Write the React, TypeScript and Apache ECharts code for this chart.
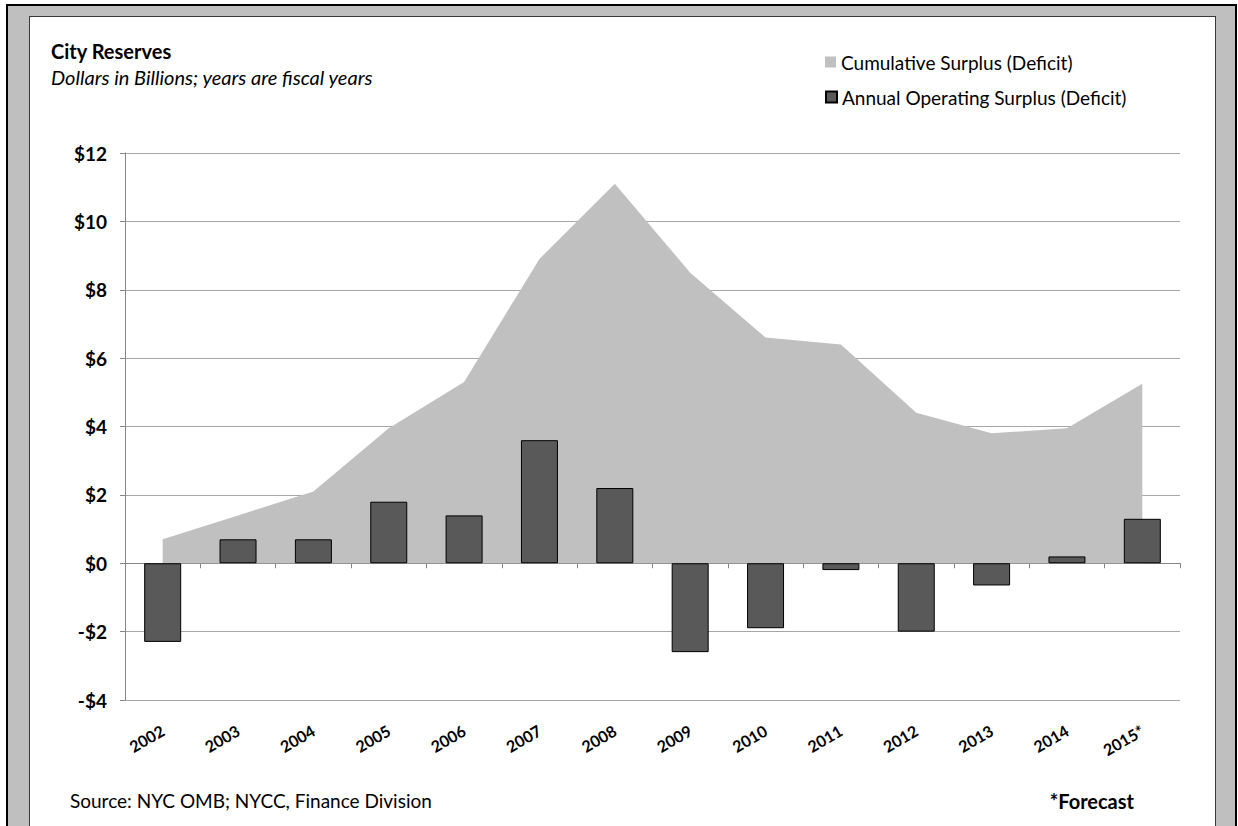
import React, { useEffect, useRef } from "react";
import * as echarts from "echarts";

const years = ["2002", "2003", "2004", "2005", "2006", "2007", "2008", "2009", "2010", "2011", "2012", "2013", "2014", "2015*"];
const cumulative = [0.7, 1.4, 2.1, 3.95, 5.3, 8.9, 11.1, 8.5, 6.6, 6.4, 4.4, 3.8, 3.95, 5.25];
const annual = [-2.3, 0.7, 0.7, 1.8, 1.4, 3.6, 2.2, -2.6, -1.9, -0.2, -2.0, -0.65, 0.2, 1.3];
const yTicks = { min: -4, max: 12, interval: 2 };
const titleText = "City Reserves";
const subtitleText = "Dollars in Billions; years are fiscal years";
const sourceText = "Source: NYC OMB; NYCC, Finance Division";
const noteText = "*Forecast";
const seriesNames = ["Cumulative Surplus (Deficit)", "Annual Operating Surplus (Deficit)"];

const FONT = "Lato, 'Open Sans', sans-serif";

export default function App() {
  const ref = useRef<HTMLDivElement>(null);
  useEffect(() => {
    if (!ref.current) return;
    const chart = echarts.init(ref.current, null, { renderer: "svg" });
    const fmt = (v: number) => (v < 0 ? "-$" + -v : "$" + v);
    const legendText = { fontSize: 19, color: "#000", fontFamily: FONT, lineHeight: 22 };
    chart.setOption({
      animation: false,
      backgroundColor: "transparent",
      textStyle: { fontFamily: FONT },
      grid: { left: 125, right: 58, top: 153, bottom: 126, containLabel: false },
      legend: [
        {
          left: 820,
          top: 46,
          itemWidth: 11,
          itemHeight: 11,
          itemGap: 0,
          textStyle: legendText,
          data: [{ name: seriesNames[0], icon: "rect" }],
        },
        {
          left: 820,
          top: 81,
          itemWidth: 11,
          itemHeight: 11,
          itemGap: 0,
          textStyle: legendText,
          data: [{ name: seriesNames[1], icon: "rect" }],
        },
      ],
      xAxis: [
        {
          type: "category",
          data: years,
          boundaryGap: true,
          position: "bottom",
          axisLine: { show: false, onZero: false },
          axisTick: { show: false },
          axisLabel: {
            interval: 0,
            rotate: 30,
            fontSize: 16,
            fontWeight: "bold",
            color: "#000",
            margin: 29,
            fontFamily: FONT,
          },
        },
        {
          type: "category",
          data: years,
          boundaryGap: true,
          position: "bottom",
          axisLine: { show: true, onZero: true, lineStyle: { color: "#868686", width: 1 } },
          axisTick: { show: true, length: 5, interval: 0, lineStyle: { color: "#868686" } },
          axisLabel: { show: false },
        },
      ],
      yAxis: {
        type: "value",
        min: yTicks.min,
        max: yTicks.max,
        interval: yTicks.interval,
        axisLine: { show: true, lineStyle: { color: "#868686" } },
        axisTick: { show: true, length: 5, lineStyle: { color: "#868686" } },
        axisLabel: {
          formatter: fmt,
          fontSize: 19,
          fontWeight: "bold",
          color: "#000",
          margin: 18,
          fontFamily: FONT,
        },
        splitLine: { show: true, lineStyle: { color: "#a6a6a6", width: 1 } },
      },
      series: [
        {
          name: seriesNames[0],
          type: "line",
          xAxisIndex: 0,
          data: cumulative,
          showSymbol: false,
          symbol: "none",
          lineStyle: { width: 0 },
          itemStyle: { color: "#c0c0c0" },
          areaStyle: { color: "#c0c0c0", opacity: 1 },
          z: 1,
        },
        {
          name: seriesNames[1],
          type: "bar",
          xAxisIndex: 0,
          data: annual,
          barWidth: 37,
          itemStyle: { color: "#595959", borderColor: "#000", borderWidth: 1 },
          z: 3,
        },
      ],
      graphic: [
        {
          type: "text",
          x: 51,
          y: 51,
          style: { text: titleText, fontSize: 20, fontWeight: "bold", fill: "#000", fontFamily: FONT, align: "left", verticalAlign: "middle" },
        },
        {
          type: "text",
          x: 51,
          y: 77,
          style: { text: subtitleText, fontSize: 20, fontStyle: "italic", fill: "#000", fontFamily: FONT, align: "left", verticalAlign: "middle" },
        },
        {
          type: "text",
          x: 70,
          y: 800,
          style: { text: sourceText, fontSize: 19, fill: "#000", fontFamily: FONT, align: "left", verticalAlign: "middle" },
        },
        {
          type: "text",
          x: 1134,
          y: 801,
          style: { text: noteText, fontSize: 20, fontWeight: "bold", fill: "#000", fontFamily: FONT, align: "right", verticalAlign: "middle" },
        },
      ],
    });
    return () => chart.dispose();
  }, []);

  return (
    <div style={{ position: "absolute", left: 0, top: 0, width: 1238, height: 826, overflow: "hidden", background: "#fff" }}>
      <div
        style={{
          position: "absolute",
          left: 6,
          top: 4,
          width: 1227,
          height: 900,
          border: "2px solid #000",
          background: "#bfbfbf",
        }}
      />
      <div
        style={{
          position: "absolute",
          left: 29,
          top: 16,
          width: 1185,
          height: 900,
          border: "1px solid #3a3a3a",
          background: "#fff",
        }}
      />
      <div ref={ref} style={{ position: "absolute", left: 0, top: 0, width: 1238, height: 826 }} />
    </div>
  );
}
